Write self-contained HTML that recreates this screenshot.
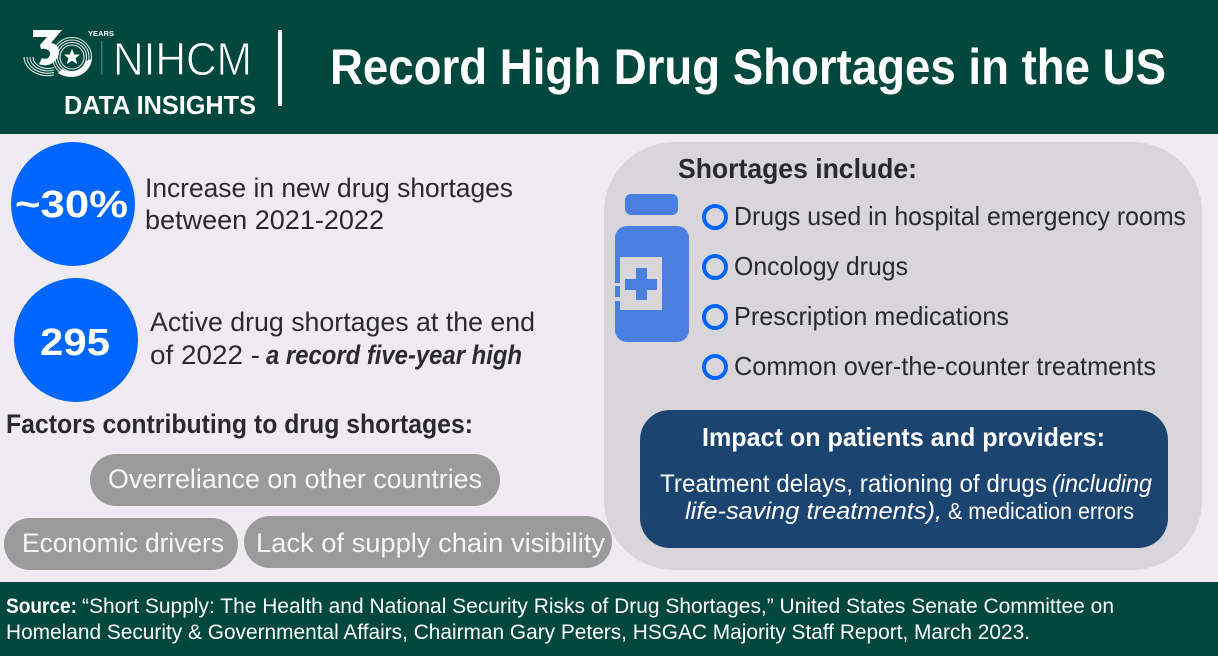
<!DOCTYPE html>
<html lang="en">
<head>
<meta charset="utf-8">
<title>Record High Drug Shortages in the US</title>
<style>
html,body{margin:0;padding:0;width:1218px;height:656px;overflow:hidden;background:#f0ebf3}
svg{display:block}
text{font-family:"Liberation Sans",sans-serif;white-space:pre}
.b{font-weight:700}
.d{fill:#2a2a2d}
.w{fill:#fff}
.p{fill:#f6f6f6}
.bul{fill:none;stroke:#0066ff;stroke-width:4}
</style>
</head>
<body>
<svg width="1218" height="656" viewBox="0 0 1218 656" xmlns="http://www.w3.org/2000/svg">
  <rect x="0" y="0" width="1218" height="656" fill="#f0ebf3"/>

  <g>
    <rect x="0" y="0" width="1218" height="134" fill="#00473e"/>
    <g>
      <g fill="none" stroke="#dfeae6" stroke-width="1.100">
        <circle cx="72" cy="57" r="12"/><circle cx="72" cy="57" r="14.500"/><circle cx="72" cy="57" r="17"/><circle cx="72" cy="57" r="19.500"/>
        <path d="M24 57a24 19 0 0 0 30 18M27 57a21 16.500 0 0 0 27 15.500M30 57a18 14 0 0 0 24 13M33 57a15 11.500 0 0 0 21 10.500"/>
      </g>
      <path d="M33 30H62L51 43C59 44 61 52 57 58C53 65 45 67 39 64L42 58C46 60 50 58 50 54C50 50 46 48 41 49L40 45L47 37H33Z" fill="#fff"/>
      <path d="M72 49l2.300 5.500h5.700l-4.500 3.700 1.700 5.800-5.200-3.300-5.200 3.300 1.700-5.800-4.500-3.700h5.700z" fill="#fff"/>
      <path d="M62 69a16 16 0 0 0 24 -8l6 -2a22 22 0 0 1 -34 14z" fill="#fff"/>
      <text x="88" y="36" font-size="7" class="w b" textLength="26" lengthAdjust="spacingAndGlyphs">YEARS</text>
      <rect x="101" y="41" width="1.500" height="34" fill="#1f7f83"/>
      <text x="113" y="75" font-size="46" class="w" stroke="#00473e" stroke-width="0.900" textLength="139" lengthAdjust="spacingAndGlyphs">NIHCM</text>
    </g>
    <text x="64" y="114" font-size="26" class="w b" textLength="192" lengthAdjust="spacingAndGlyphs">DATA INSIGHTS</text>
    <rect x="278" y="30" width="4" height="76" fill="#fff"/>
    <text x="330" y="84" font-size="50" class="w b" textLength="836" lengthAdjust="spacingAndGlyphs">Record High Drug Shortages in the US</text>
  </g>

  <g>
    <circle cx="73" cy="204" r="62" fill="#0066ff"/>
    <text x="15" y="217" font-size="38" class="w b" textLength="113" lengthAdjust="spacingAndGlyphs">~30%</text>
    <text x="145" y="197" font-size="27" class="d" textLength="368" lengthAdjust="spacingAndGlyphs">Increase in new drug shortages</text>
    <text x="145" y="229" font-size="27" class="d" textLength="239" lengthAdjust="spacingAndGlyphs">between 2021-2022</text>
  </g>

  <g>
    <circle cx="76" cy="340" r="62" fill="#0066ff"/>
    <text x="40" y="355" font-size="38" class="w b" textLength="70" lengthAdjust="spacingAndGlyphs">295</text>
    <text x="150" y="331" font-size="27" class="d" textLength="385" lengthAdjust="spacingAndGlyphs">Active drug shortages at the end</text>
    <text x="150" y="364" font-size="27" class="d" textLength="110" lengthAdjust="spacingAndGlyphs">of 2022 -</text>
    <text x="266" y="364" font-size="27" class="d b" font-style="italic" textLength="256" lengthAdjust="spacingAndGlyphs">a record five-year high</text>
  </g>

  <g>
    <text x="6" y="433" font-size="27" class="d b" textLength="467" lengthAdjust="spacingAndGlyphs">Factors contributing to drug shortages:</text>
    <g>
      <rect x="90" y="454" width="410" height="52" rx="26" fill="#9b9b9b"/>
      <text x="108" y="488" font-size="27" class="p" textLength="374" lengthAdjust="spacingAndGlyphs">Overreliance on other countries</text>
    </g>
    <g>
      <rect x="4" y="518" width="234" height="52" rx="26" fill="#9b9b9b"/>
      <text x="22" y="552" font-size="27" class="p" textLength="202" lengthAdjust="spacingAndGlyphs">Economic drivers</text>
    </g>
    <g>
      <rect x="244" y="516" width="368" height="52" rx="26" fill="#9b9b9b"/>
      <text x="256" y="552" font-size="27" class="p" textLength="349" lengthAdjust="spacingAndGlyphs">Lack of supply chain visibility</text>
    </g>
  </g>

  <g>
    <rect x="604" y="142" width="598" height="428" rx="70" fill="#d8d6da"/>
    <text x="678" y="178" font-size="28" class="d b" textLength="239" lengthAdjust="spacingAndGlyphs">Shortages include:</text>

    <g>
      <rect x="625" y="194" width="53" height="21" rx="6" fill="#4a7fe0"/>
      <rect x="615" y="226" width="74" height="116" rx="12" fill="#4a7fe0"/>
      <rect x="620" y="257" width="42" height="53" fill="#d8d6da"/>
      <rect x="614" y="283" width="6" height="3" fill="#d8d6da"/>
      <rect x="614" y="297" width="6" height="4" fill="#d8d6da"/>
      <path d="M636 268h11v11h10v11h-10v10h-11v-10h-11v-11h11z" fill="#4a7fe0"/>
    </g>

    <circle cx="715" cy="217" r="11" class="bul"/>
    <text x="734" y="225" font-size="26" class="d" textLength="452" lengthAdjust="spacingAndGlyphs">Drugs used in hospital emergency rooms</text>
    <circle cx="715" cy="267" r="11" class="bul"/>
    <text x="734" y="275" font-size="26" class="d" textLength="174" lengthAdjust="spacingAndGlyphs">Oncology drugs</text>
    <circle cx="715" cy="317" r="11" class="bul"/>
    <text x="734" y="325" font-size="26" class="d" textLength="275" lengthAdjust="spacingAndGlyphs">Prescription medications</text>
    <circle cx="715" cy="367" r="11" class="bul"/>
    <text x="734" y="375" font-size="26" class="d" textLength="422" lengthAdjust="spacingAndGlyphs">Common over-the-counter treatments</text>

    <g>
      <rect x="640" y="410" width="528" height="138" rx="30" fill="#1c4470"/>
      <text x="702" y="446" font-size="26" class="w b" textLength="403" lengthAdjust="spacingAndGlyphs">Impact on patients and providers:</text>
      <text x="660" y="492" font-size="25" class="w" textLength="387" lengthAdjust="spacingAndGlyphs">Treatment delays, rationing of drugs</text>
      <text x="1052" y="492" font-size="25" class="w" font-style="italic" textLength="100" lengthAdjust="spacingAndGlyphs">(including</text>
      <text x="685" y="519" font-size="24" class="w" font-style="italic" textLength="257" lengthAdjust="spacingAndGlyphs">life-saving treatments),</text>
      <text x="948" y="519" font-size="23" class="w" textLength="186" lengthAdjust="spacingAndGlyphs">&amp; medication errors</text>
    </g>
  </g>

  <g>
    <rect x="0" y="582" width="1218" height="74" fill="#00473e"/>
    <text x="6" y="613" font-size="21" class="w b" textLength="71" lengthAdjust="spacingAndGlyphs">Source:</text>
    <text x="82" y="613" font-size="21" class="w" textLength="1032" lengthAdjust="spacingAndGlyphs">“Short Supply: The Health and National Security Risks of Drug Shortages,” United States Senate Committee on</text>
    <text x="6" y="639" font-size="21" class="w" textLength="1024" lengthAdjust="spacingAndGlyphs">Homeland Security &amp; Governmental Affairs, Chairman Gary Peters, HSGAC Majority Staff Report, March 2023.</text>
  </g>
</svg>
</body>
</html>
